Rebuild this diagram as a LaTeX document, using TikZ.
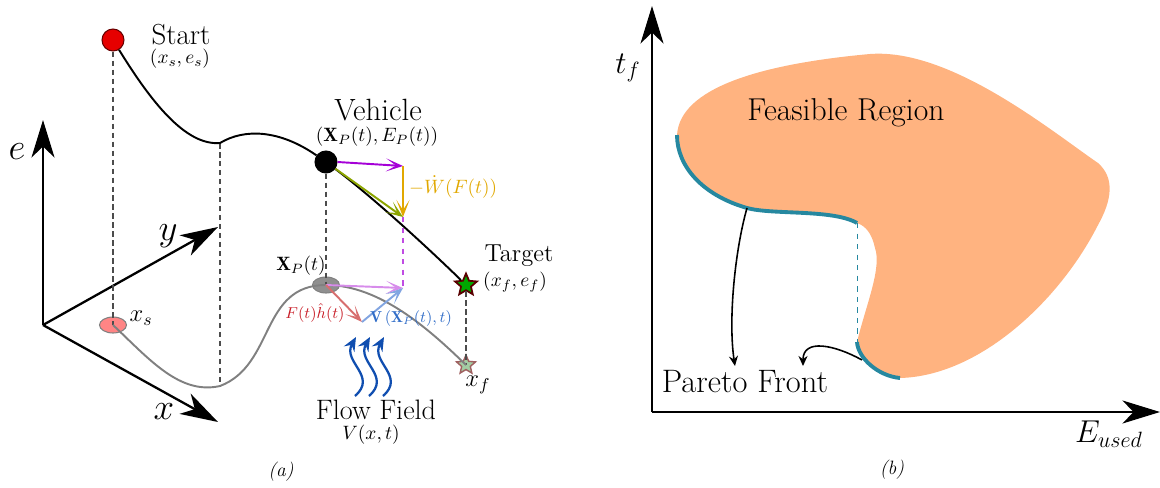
\documentclass[tikz,border=0pt]{standalone}
\usepackage{fix-cm}
\usepackage{fontspec}
\usetikzlibrary{arrows.meta,shapes.geometric}

\definecolor{startred}{RGB}{230,0,0}
\definecolor{feasible}{RGB}{255,179,128}
\definecolor{paretoc}{RGB}{38,136,160}
\definecolor{thrustc}{RGB}{165,0,215}
\definecolor{drainc}{RGB}{225,168,0}
\definecolor{netc}{RGB}{140,165,0}
\definecolor{headc}{RGB}{215,110,110}
\definecolor{headlbl}{RGB}{200,30,40}
\definecolor{groundc}{RGB}{215,140,235}
\definecolor{flowc}{RGB}{130,165,225}
\definecolor{flowlbl}{RGB}{50,110,200}
\definecolor{fieldc}{RGB}{16,78,176}

\begin{document}
\begin{tikzpicture}[
  x=0.02cm, y=-0.02cm,
  axis/.style={line width=1.3pt, -{Stealth[length=7.5mm,width=4.6mm,inset=2.2mm]}},
  endpt/.style={circle, draw, line width=0.6pt, minimum size=4.4mm, inner sep=0pt},
  proj/.style={ellipse, draw=gray, line width=0.6pt, minimum width=5.4mm, minimum height=3.2mm, inner sep=0pt},
  goal/.style={star, star points=5, star point ratio=2.2, minimum size=4.6mm, inner sep=0pt, line width=1pt},
  drop/.style={dashed, dash pattern=on 1.1mm off 0.7mm, line width=0.7pt, black!70},
  vec/.style={line width=1.1pt, -{Stealth[length=3.4mm,width=2.6mm,inset=2mm]}},
  flow/.style={fieldc, line width=1.3pt, -{Stealth[length=2.8mm,width=2.4mm,inset=1mm]}},
  pointer/.style={line width=0.9pt, -{Stealth[length=2mm,width=1.8mm]}},
  big/.style={font=\fontsize{17}{20}\selectfont},
  huge/.style={font=\fontsize{18.5}{21}\selectfont},
  mid/.style={font=\fontsize{14}{16}\selectfont},
  small/.style={font=\fontsize{11}{13}\selectfont},
  tiny/.style={font=\fontsize{9}{11}\selectfont, inner sep=1pt},
  axlbl/.style={font=\fontsize{21}{24}\selectfont}
]
  \useasboundingbox (0,0) rectangle (1160,487);

  % ---------------- (a) trajectory in (x, y, e) space ----------------
  \coordinate (origin) at (43,325);
  \coordinate (etip) at (43,120);
  \coordinate (ytip) at (218,227);
  \coordinate (xtip) at (218,422);
  \draw[axis] (origin) -- (etip);
  \draw[axis] (origin) -- (ytip);
  \draw[axis] (origin) -- (xtip);
  \node[axlbl] (elbl) at (17,152) {$e$};
  \node[axlbl] (ylbl) at (168,236) {$y$};
  \node[axlbl] (xlbl) at (164,412) {$x$};

  % start, vehicle, target and their projections
  \node[endpt, fill=startred, draw=red!40!black] (start) at (113,40) {};
  \node[endpt, fill=black] (vehicle) at (326,162) {};
  \node[goal, fill=green!65!black, draw=red!35!black] (target) at (466,285) {};
  \node[proj, fill=red!60, fill opacity=.8] (xs) at (113,325) {};
  \node[proj, fill=black!55, fill opacity=.8] (xp) at (326,285) {};
  \node[goal, fill=green!45!black!45, draw=red!25!gray, fill opacity=.8, minimum size=4mm, line width=.8pt] (xf) at (466,365) {};

  \coordinate (ptop) at (220,143);
  \coordinate (pbot) at (220,386);

  % vertical drop lines
  \draw[drop] (start) -- (xs.center);
  \draw[drop] (ptop) -- (pbot);
  \draw[drop] (vehicle) -- (xp.center);
  \draw[drop] (target) -- (xf.center);

  % path in energy space and its ground track
  \draw[line width=1.1pt] (start) .. controls (150,100) and (185,146) .. (ptop)
    .. controls (245,128) and (280,130) .. (vehicle)
    .. controls (370,195) and (425,245) .. (target);
  \draw[line width=1.1pt, black!50] (xs.center) .. controls (150,360) and (180,395) .. (pbot)
    .. controls (275,365) and (260,285) .. (xp.center)
    .. controls (380,285) and (430,330) .. (xf.center);

  % velocity triangle at the vehicle
  \coordinate (wtip) at (403,166);
  \coordinate (vtip) at (403,217);
  \coordinate (gtip) at (403,288);
  \coordinate (htip) at (362,322);
  \draw[vec, thrustc] (vehicle.east) -- (wtip);
  \draw[vec, drainc] (wtip) -- (vtip);
  \draw[vec, netc] (vehicle) -- (vtip);
  \draw[dashed, line width=0.8pt, thrustc!70] (vtip) -- (gtip);

  % velocity triangle on the ground
  \draw[vec, groundc] (xp.center) -- (gtip);
  \draw[vec, headc] (xp.center) -- (htip);
  \draw[vec, flowc] (htip) -- (gtip);

  % flow field
  \foreach \dx in {0,14,28}
    \draw[flow] (355+\dx,396) .. controls (378+\dx,376) and (342+\dx,362) .. (356+\dx,337);

  % labels
  \node[big, font=\fontsize{16.5}{19}\selectfont] (startlbl) at (181,35) {Start};
  \node[small] (startco) at (180,59) {$(x_s,e_s)$};
  \node[big, font=\fontsize{17.5}{20}\selectfont] (vehlbl) at (378,110) {Vehicle};
  \node[small] (vehco) at (377,137) {$(\mathbf{X}_P(t),E_P(t))$};
  \node[mid] (tarlbl) at (519,256) {Target};
  \node[small] (tarco) at (515,282) {$(x_f,e_f)$};
  \node[small, drainc, anchor=west, inner sep=1pt] (drainlbl) at (407,187) {$-\dot{W}(F(t))$};
  \node[small] (xplbl) at (301,266) {$\mathbf{X}_P(t)$};
  \node[tiny, headlbl] (headlbl) at (315,313) {$F(t)\hat{h}(t)$};
  \node[tiny, flowlbl] (flowlbl) at (411,319) {$\mathbf{V}\left(\mathbf{X}_P(t),t\right)$};
  \node[mid] (xslbl) at (141,318) {$x_s$};
  \node[mid] (xflbl) at (478,385) {$x_f$};
  \node[big, font=\fontsize{16}{19}\selectfont, inner sep=1pt] (fieldlbl) at (376,410) {Flow Field};
  \node[small, inner sep=1pt] (fieldco) at (371,435) {$V(x,t)$};
  \node[small] (capa) at (281,472) {\textit{(a)}};

  % ---------------- (b) feasible region and Pareto front ----------------
  \coordinate (borig) at (652,412);
  \coordinate (ttip) at (652,6);
  \coordinate (Etip) at (1160,412);
  \draw[axis] (borig) -- (ttip);
  \draw[axis] (borig) -- (Etip);
  \node[axlbl, font=\fontsize{18}{21}\selectfont] (tlbl) at (628,68) {$t_f$};
  \node[axlbl, font=\fontsize{18}{21}\selectfont] (Elbl) at (1109,434) {$E_{used}$};

  \coordinate (A) at (677,135);
  \coordinate (H) at (747,208);
  \coordinate (G) at (857,223);
  \coordinate (F) at (857,342);
  \coordinate (E) at (900,378);
  \fill[feasible] (A) .. controls (680,88) and (760,64) .. (870,54)
    .. controls (950,48) and (1050,130) .. (1098,163)
    .. controls (1115,178) and (1112,200) .. (1098,225)
    .. controls (1060,300) and (980,376) .. (E)
    .. controls (878,376) and (858,358) .. (F)
    .. controls (866,305) and (882,268) .. (875,248)
    .. controls (872,234) and (866,226) .. (G)
    .. controls (833,209) and (772,215) .. (H)
    .. controls (702,195) and (677,166) .. (A) -- cycle;

  % Pareto front
  \draw[paretoc, line width=2.2pt] (G) .. controls (833,209) and (772,215) .. (H)
    .. controls (702,195) and (677,166) .. (A);
  \draw[paretoc, line width=2.2pt] (E) .. controls (878,376) and (858,358) .. (F);
  \draw[paretoc, dashed, line width=0.4pt] (G) -- (F);

  \node[huge, font=\fontsize{18}{21}\selectfont] (feaslbl) at (846,113) {Feasible Region};
  \node[huge] (paretolbl) at (745,382) {Pareto Front};
  \coordinate (pf1) at (735,366);
  \coordinate (pf2) at (803,366);
  \coordinate (pfa) at (862,360);
  \draw[pointer] (H) .. controls (735,250) and (728,320) .. (pf1);
  \draw[pointer] (pfa) .. controls (835,345) and (803,338) .. (pf2);

  \node[small] (capb) at (892,470) {\textit{(b)}};
\end{tikzpicture}
\end{document}
